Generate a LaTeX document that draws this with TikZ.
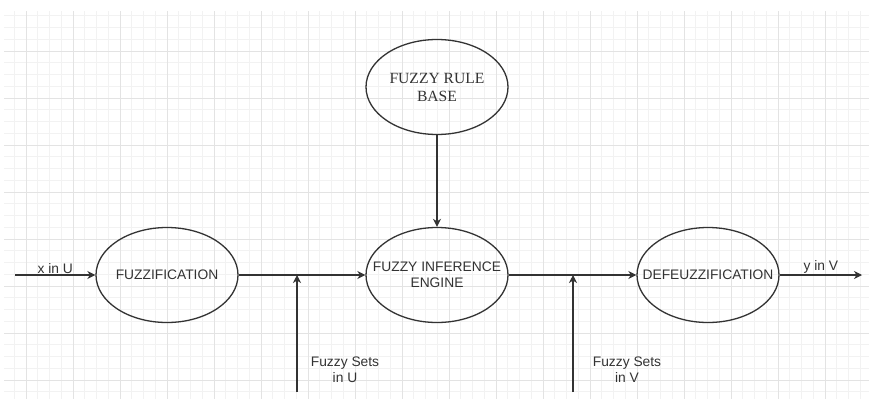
\documentclass[tikz,border=0pt]{standalone}
\usepackage{fontspec}
\setmainfont{Liberation Serif}
\setsansfont{Liberation Sans}
\usetikzlibrary{arrows.meta,shapes.geometric}

\begin{document}
\begin{tikzpicture}[x=1pt, y=-1pt, line width=1.3pt,
  stage/.style={draw=black!80, ellipse, minimum width=142pt, minimum height=95pt,
    inner xsep=-20pt, inner ysep=0pt, align=center, text=black!80,
    font=\sffamily\fontsize{13.8}{16}\selectfont},
  flow/.style={draw=black!80, -{Stealth[length=8pt,width=8pt,inset=2.5pt]}},
  lbl/.style={text=black!80, font=\sffamily\fontsize{13.8}{16}\selectfont, align=center, inner sep=1pt}]
  % page with the drawing grid
  \fill[white] (0,0) rectangle (869,402);
  \useasboundingbox (0,0) rectangle (869,402);
  \begin{scope}
    \clip (4,11) rectangle (869,399);
    \foreach \i in {-1,...,71} \draw[line width=0.7pt, black!5] ({26+11.75*\i},11) -- ({26+11.75*\i},399);
    \foreach \i in {-3,...,29} \draw[line width=0.7pt, black!5] (4,{51+11.75*\i}) -- (869,{51+11.75*\i});
    \foreach \i in {0,...,17} \draw[line width=0.8pt, black!11] ({26+47*\i},11) -- ({26+47*\i},399);
    \foreach \i in {0,...,7} \draw[line width=0.8pt, black!11] (4,{51+47*\i}) -- (869,{51+47*\i});
  \end{scope}
  % processing stages
  \node[stage] (fuzz) at (167,275) {FUZZIFICATION};
  \node[stage] (fie) at (437,275) {FUZZY INFERENCE\\ENGINE};
  \node[stage] (defuzz) at (708,275) {DEFEUZZIFICATION};
  \node[stage, font=\rmfamily\fontsize{15.6}{18}\selectfont] (rule) at (437,87) {FUZZY RULE\\BASE};
  % crisp input and output
  \coordinate (xin) at (15,275);
  \coordinate (yout) at (862,275);
  \draw[flow] (xin) -- (fuzz) node[midway, above, lbl]{x in U};
  \draw[flow] (defuzz) -- (yout) node[midway, above, lbl]{y in V};
  % main chain
  \draw[flow] (fuzz) -- (fie);
  \draw[flow] (fie) -- (defuzz);
  \draw[flow] (rule) -- (fie);
  % fuzzy sets pointers
  \coordinate (su) at (297,392);
  \coordinate (sv) at (573,392);
  \draw[flow] (su) -- (su |- fuzz);
  \draw[flow] (sv) -- (sv |- defuzz);
  \node[lbl] (setsu) at (345,370) {Fuzzy Sets\\in U};
  \node[lbl] (setsv) at (627,370) {Fuzzy Sets\\in V};
\end{tikzpicture}
\end{document}
